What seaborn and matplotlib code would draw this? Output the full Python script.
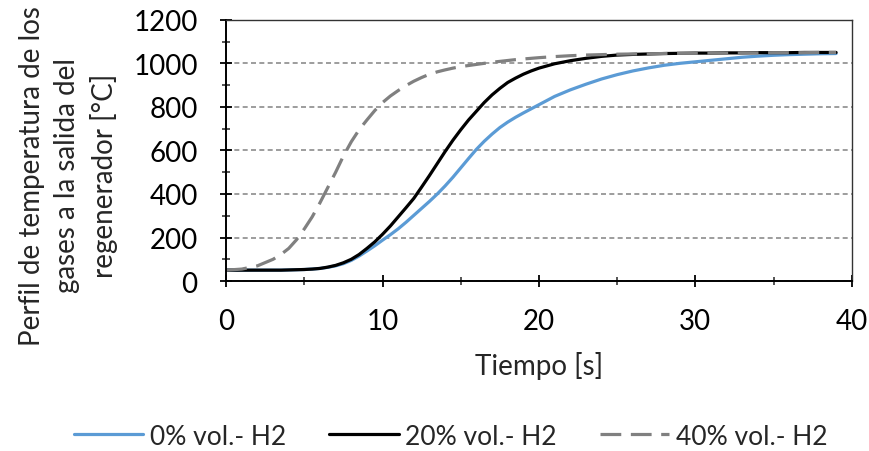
import numpy as np
import pandas as pd
import matplotlib
matplotlib.use('Agg')
import matplotlib.pyplot as plt
from matplotlib.ticker import MultipleLocator
import seaborn as sns

# Data (time in s, temperature in °C)
tiempo = [0, 1, 2, 3, 3.5, 4, 4.5, 5, 5.5, 6, 6.5, 7, 7.5, 8, 8.5, 9, 9.5, 10, 10.5, 11, 11.5,
          12, 12.5, 13, 13.5, 14, 14.5, 15, 15.5, 16, 16.5, 17, 17.5, 18, 18.5, 19, 19.5, 20,
          21, 22, 23, 24, 25, 26, 27, 28, 29, 30, 31, 32, 33, 34, 35, 36, 37, 38, 39]
h2_0 = [50, 50, 50, 50, 50, 51, 52, 53, 55, 58, 63, 70, 80, 95, 115, 138, 162, 188, 213, 240, 270,
        302, 334, 366, 400, 437, 477, 520, 563, 605, 642, 675, 705, 730, 752, 772, 791, 810,
        848, 878, 904, 928, 948, 965, 979, 991, 1000, 1007, 1014, 1021, 1028, 1033, 1037, 1040, 1042, 1044, 1045]
h2_20 = [50, 50, 50, 50, 50, 51, 52, 53, 55, 58, 64, 72, 84, 100, 122, 150, 180, 215, 253, 295, 337,
         380, 432, 485, 540, 595, 647, 695, 740, 780, 820, 855, 885, 912, 932, 950, 965, 978,
         998, 1012, 1023, 1032, 1038, 1041, 1043, 1045, 1046, 1047, 1047, 1048, 1048, 1049, 1049, 1049, 1050, 1050, 1050]
h2_40 = [50, 55, 70, 100, 122, 150, 190, 240, 295, 360, 430, 500, 575, 640, 695, 740, 783, 820, 850, 875, 898,
         918, 935, 950, 961, 970, 978, 985, 990, 995, 1000, 1005, 1009, 1013, 1017, 1020, 1023, 1026,
         1031, 1035, 1038, 1040, 1042, 1043, 1044, 1045, 1046, 1046, 1047, 1047, 1048, 1048, 1049, 1049, 1049, 1050, 1050]
series = ['0% vol.- H2', '20% vol.- H2', '40% vol.- H2']

df = pd.concat([
    pd.DataFrame({'t': tiempo, 'T': vals, 'serie': name})
    for name, vals in zip(series, [h2_0, h2_20, h2_40])
])

sns.set_style('white')
plt.rcParams['font.family'] = ['Lato', 'DejaVu Sans']
FS = 20

colors = {series[0]: '#5B9BD5', series[1]: '#000000', series[2]: '#808080'}
dashes = {series[0]: '', series[1]: '', series[2]: (6.5, 3)}

fig = plt.figure(figsize=(8.7, 4.52), dpi=100)
ax = fig.add_axes([0.26, 0.376, 0.719, 0.578])

sns.lineplot(data=df, x='t', y='T', hue='serie', style='serie', palette=colors,
             dashes=dashes, linewidth=2.3, ax=ax, legend=False)

ax.set_xlim(0, 40)
ax.set_ylim(0, 1200)
ax.xaxis.set_major_locator(MultipleLocator(10))
ax.xaxis.set_minor_locator(MultipleLocator(5))
ax.yaxis.set_major_locator(MultipleLocator(200))
ax.yaxis.set_minor_locator(MultipleLocator(100))
ax.tick_params(axis='both', which='major', direction='inout', length=9, width=1.3,
               labelsize=FS, colors='black')
ax.tick_params(axis='both', which='minor', direction='inout', length=6, width=1.1)
ax.tick_params(axis='x', which='both', bottom=True, pad=15)
ax.tick_params(axis='y', which='both', left=True, pad=16)

ax.grid(axis='y', which='major', color='#8c8c8c', linestyle=(0, (3, 2)), linewidth=1.2)
ax.set_axisbelow(True)
for side in ['left', 'bottom']:
    ax.spines[side].set_color('black')
    ax.spines[side].set_linewidth(1.4)
for side in ['top', 'right']:
    ax.spines[side].set_color('#333333')
    ax.spines[side].set_linewidth(1.0)

ax.set_xlabel('Tiempo [s]', fontsize=FS, labelpad=12)
ax.set_ylabel('Perfil de temperatura de los\ngases a la salida del\nregenerador [°C]',
              fontsize=FS, linespacing=1.45, va='center')
ax.yaxis.set_label_coords(-0.252, 0.406)

handles = [plt.Line2D([], [], color=colors[s], linewidth=2.3,
                      linestyle=(0, dashes[s]) if dashes[s] else '-') for s in series]
fig.legend(handles, series, loc='center', bbox_to_anchor=(0.518, 0.033), ncol=3, frameon=False,
           fontsize=19, handlelength=2.63, handletextpad=0.25, columnspacing=1.63)

fig.savefig('out.png', dpi=100)
